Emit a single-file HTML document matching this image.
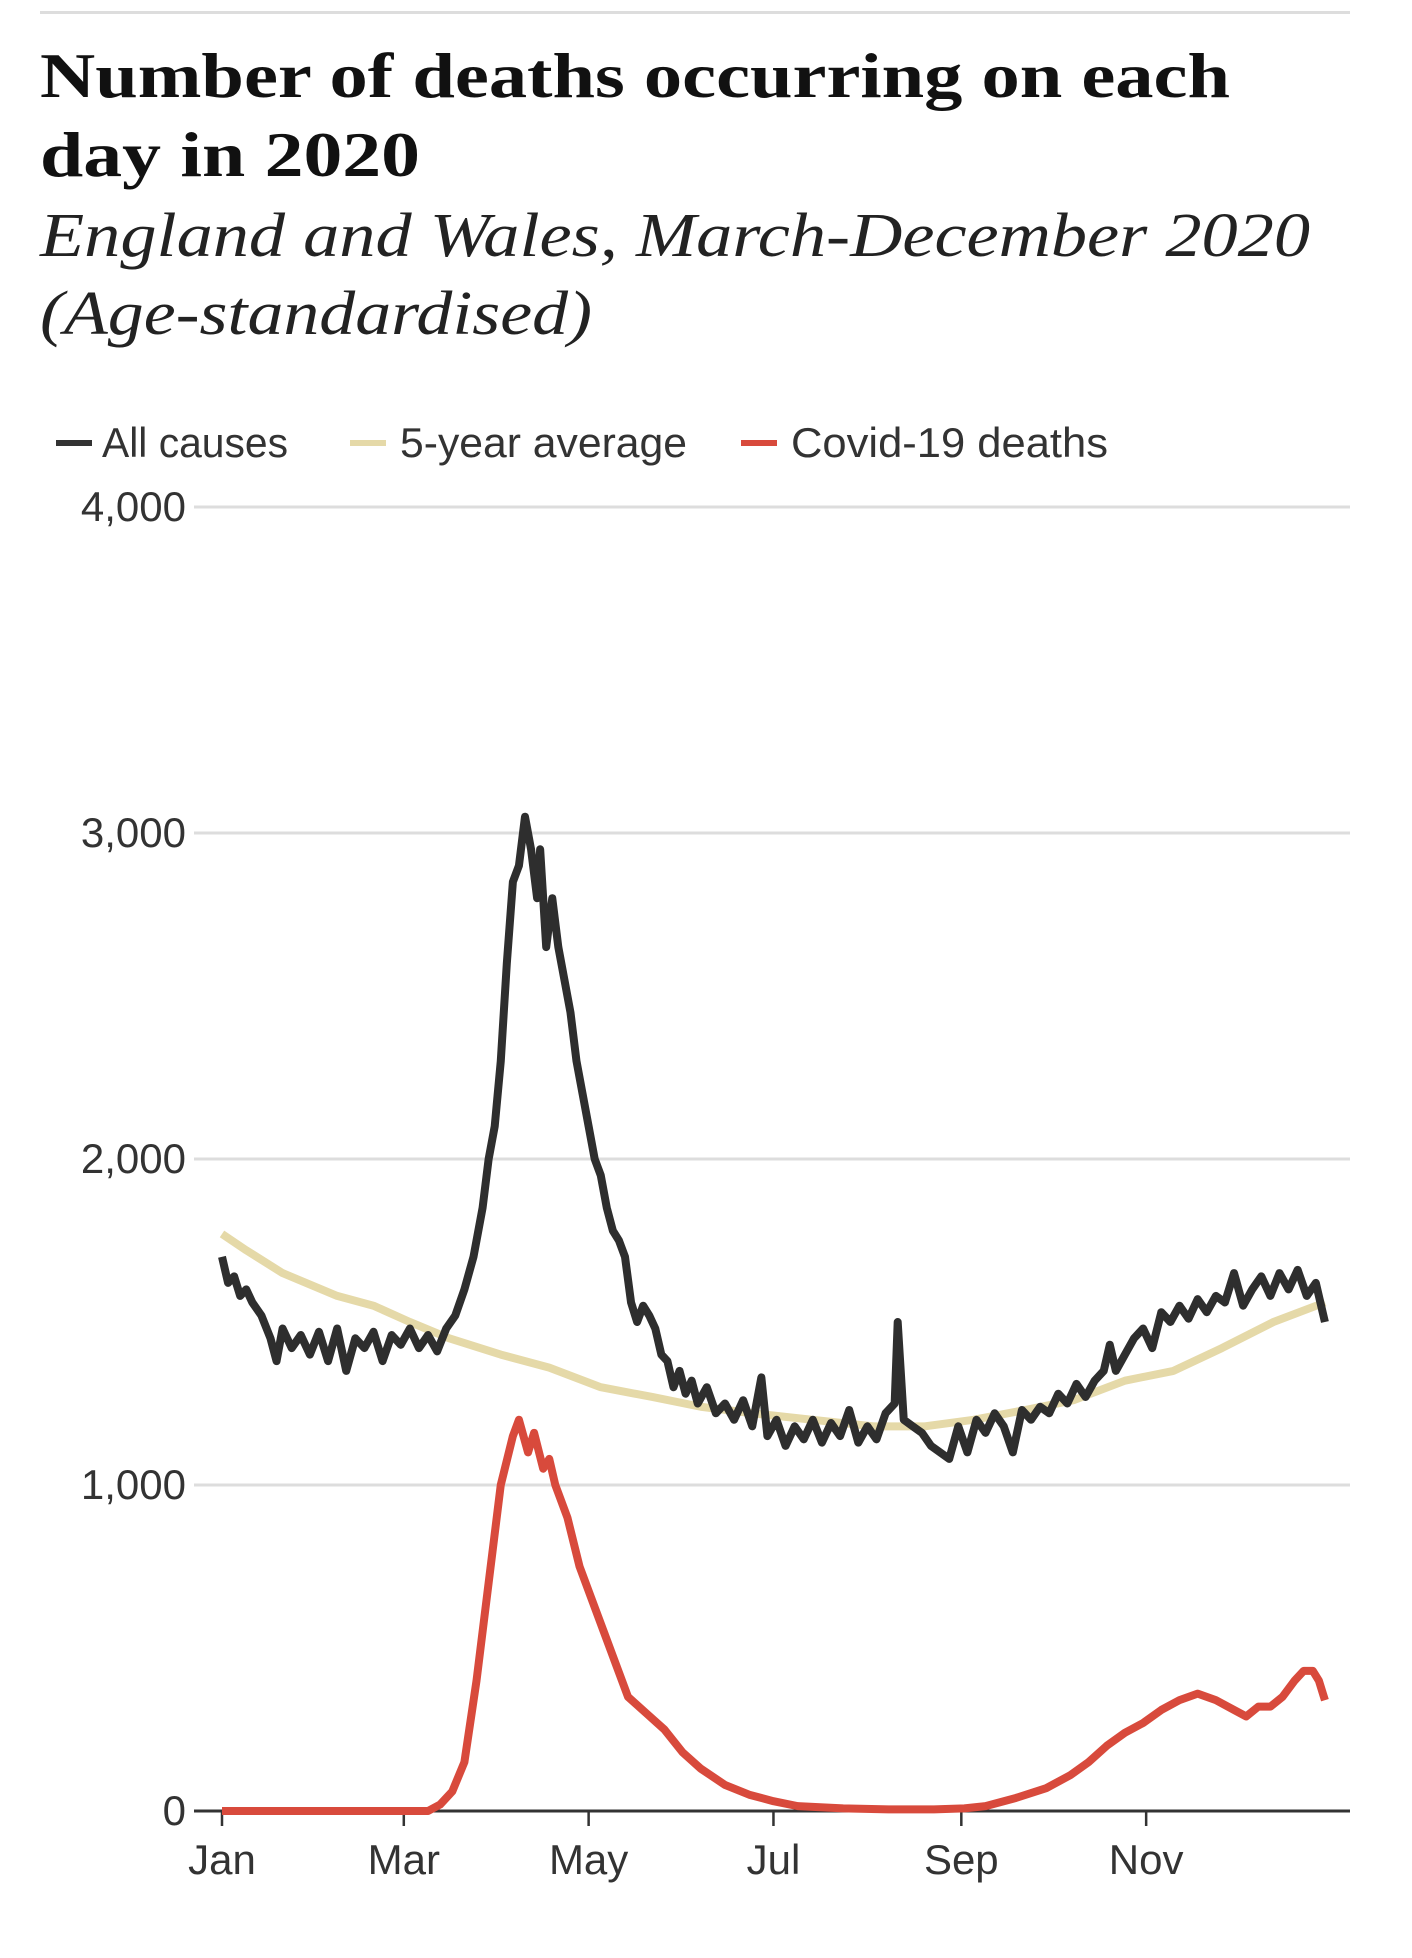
<!DOCTYPE html>
<html><head><meta charset="utf-8"><style>
html,body{margin:0;padding:0;background:#fff;}
svg{display:block;}
.t{font-family:"Liberation Serif",serif;}
.s{font-family:"Liberation Sans Narrow","Liberation Sans",sans-serif;fill:#333;}
</style></head><body>
<svg id="chart" width="1412" height="1958" viewBox="0 0 1412 1958">
<rect x="40" y="11" width="1310" height="3" fill="#ddd"/>
<text class="t" x="40" y="97" font-size="64" font-weight="bold" fill="#111" textLength="1190" lengthAdjust="spacingAndGlyphs">Number of deaths occurring on each</text>
<text class="t" x="40" y="176" font-size="64" font-weight="bold" fill="#111" textLength="380" lengthAdjust="spacingAndGlyphs">day in 2020</text>
<text class="t" x="40" y="256" font-size="62" font-style="italic" fill="#222" textLength="1270" lengthAdjust="spacingAndGlyphs">England and Wales, March-December 2020</text>
<text class="t" x="40" y="334" font-size="62" font-style="italic" fill="#222" textLength="552" lengthAdjust="spacingAndGlyphs">(Age-standardised)</text>
<g>
<g><rect x="56" y="440" width="36" height="6" fill="#333"/><text class="s" x="102" y="457" font-size="42" textLength="186" lengthAdjust="spacingAndGlyphs">All causes</text></g>
<g><rect x="350" y="440" width="36" height="6" fill="#e5d9a8"/><text class="s" x="400" y="457" font-size="42" textLength="287" lengthAdjust="spacingAndGlyphs">5-year average</text></g>
<g><rect x="741" y="440" width="36" height="6" fill="#d84a3c"/><text class="s" x="791" y="457" font-size="42" textLength="317" lengthAdjust="spacingAndGlyphs">Covid-19 deaths</text></g>
</g>
<g id="grid"></g>
<g id="xaxis"></g>
<g id="series"></g>
</svg>
<script>
const yTicks=[0,1000,2000,3000,4000];
const yTickLabels=["0","1,000","2,000","3,000","4,000"];
const monthDays=[0,60,121,182,244,305];
const monthLabels=["Jan","Mar","May","Jul","Sep","Nov"];
const allDays=[0,2,4,6,8,10,13,16,18,20,23,26,29,32,35,38,41,44,47,50,53,56,59,62,65,68,71,74,77,80,83,86,88,90,92,94,96,98,100,102,104,105,107,109,111,113,115,117,119,121,123,125,127,129,131,133,135,137,139,141,143,145,147,149,151,153,155,157,160,163,166,169,172,175,178,180,183,186,189,192,195,198,201,204,207,210,213,216,219,222,223,225,228,231,234,237,240,243,246,249,252,255,258,261,264,267,270,273,276,279,282,285,288,291,293,295,298,301,304,307,310,313,316,319,322,325,328,331,334,337,340,343,346,349,352,355,358,361,364];
const allValues=[1700,1620,1640,1580,1600,1560,1520,1450,1380,1480,1420,1460,1400,1470,1380,1480,1350,1450,1420,1470,1380,1460,1430,1480,1420,1460,1410,1480,1520,1600,1700,1850,2000,2100,2300,2600,2850,2900,3050,2950,2800,2950,2650,2800,2650,2550,2450,2300,2200,2100,2000,1950,1850,1780,1750,1700,1560,1500,1550,1520,1480,1400,1380,1300,1350,1280,1320,1250,1300,1220,1250,1200,1260,1180,1330,1150,1200,1120,1180,1140,1200,1130,1190,1150,1230,1130,1180,1140,1220,1250,1500,1200,1180,1160,1120,1100,1080,1180,1100,1200,1160,1220,1180,1100,1230,1200,1240,1220,1280,1250,1310,1270,1320,1350,1430,1350,1400,1450,1480,1420,1530,1500,1550,1510,1570,1530,1580,1560,1650,1550,1600,1640,1580,1650,1600,1660,1580,1620,1500];
const avgDays=[0,8,20,38,50,62,75,92,108,125,142,158,175,195,215,232,248,265,281,298,314,330,347,364];
const avgValues=[1770,1720,1650,1580,1550,1500,1450,1400,1360,1300,1270,1240,1220,1200,1180,1180,1200,1230,1260,1320,1350,1420,1500,1560];
const covidDays=[0,68,72,76,80,84,88,92,96,98,101,103,106,108,110,114,118,122,126,130,134,140,146,152,158,166,174,182,190,205,220,235,245,252,262,272,280,286,292,298,304,310,316,322,328,334,338,342,346,350,354,357,360,362,364];
const covidValues=[0,0,20,60,150,400,700,1000,1150,1200,1100,1160,1050,1080,1000,900,750,650,550,450,350,300,250,180,130,80,50,30,15,8,5,5,8,15,40,70,110,150,200,240,270,310,340,360,340,310,290,320,320,350,400,430,430,400,340];

const NS="http://www.w3.org/2000/svg";
const xS=d=>222+d*3.03;
const yS=v=>1811-v*0.326;
function mk(tag,attrs,parent){const e=document.createElementNS(NS,tag);for(const k in attrs)e.setAttribute(k,attrs[k]);parent.appendChild(e);return e;}
const grid=document.getElementById('grid'),xa=document.getElementById('xaxis'),ser=document.getElementById('series');
yTicks.forEach((v,i)=>{
  if(v>0){const l=mk('line',{x1:194,x2:1350,y1:yS(v),y2:yS(v),stroke:'#ddd','stroke-width':3},grid);
  
  }
  const t=mk('text',{x:186,y:yS(v)+14,'text-anchor':'end','font-size':42,class:'s'},grid);
  t.textContent=yTickLabels[i];
  
  
});
monthDays.forEach((d,i)=>{
  const tk=mk('line',{x1:xS(d),x2:xS(d),y1:1811,y2:1826,stroke:'#333','stroke-width':2.5},xa);
  
  
  const t=mk('text',{x:xS(d),y:1874,'text-anchor':'middle','font-size':42,class:'s'},xa);
  t.textContent=monthLabels[i];
  
  
});
function line(days,vals,color,name){
  const p=mk('polyline',{points:days.map((d,i)=>xS(d)+','+yS(vals[i])).join(' '),fill:'none',stroke:color,'stroke-width':8,'stroke-linejoin':'round'},ser);
  
  
}
line(avgDays,avgValues,'#e5d9a8','line-5-year-average');
line(allDays,allValues,'#2e2e2e','line-all-causes');
const ax=mk('line',{x1:194,x2:1350,y1:1811,y2:1811,stroke:'#333','stroke-width':3},xa);


line(covidDays,covidValues,'#d84a3c','line-covid-19-deaths');
</script>
</body></html>
